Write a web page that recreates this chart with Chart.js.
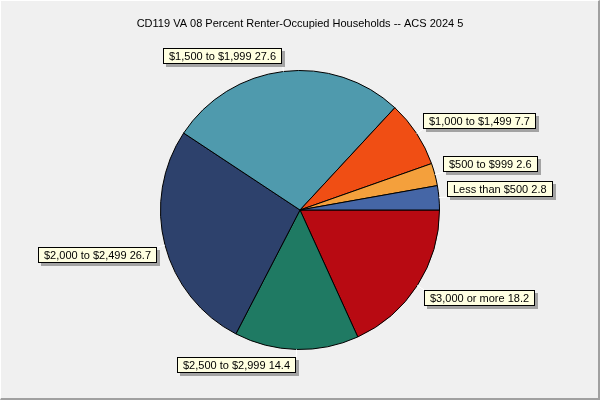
<!DOCTYPE html>
<html lang="en">
<head>
<meta charset="UTF-8">
<title>CD119 VA 08 Percent Renter-Occupied Households</title>
<script src="https://cdn.jsdelivr.net/npm/chart.js"></script>
<style>
  body { margin: 0; background: #f0f0f0; }
  #wrap { position: relative; width: 600px; height: 400px; }
  #frame {
    position: absolute; left: 0; top: 0; width: 600px; height: 400px;
    box-sizing: border-box; pointer-events: none;
    border-top: 1px solid #ffffff; border-left: 1px solid #ffffff;
    border-right: 2px solid #a0a0a0; border-bottom: 2px solid #a0a0a0;
  }
</style>
</head>
<body>
<div id="wrap">
  <canvas id="pie" width="600" height="400"></canvas>
  <div id="frame"></div>
</div>
<script>
// rent categories, in the order they run counter-clockwise from 3 o'clock
const categorias = ['Less than $500', '$500 to $999', '$1,000 to $1,499', '$1,500 to $1,999',
                    '$2,000 to $2,499', '$2,500 to $2,999', '$3,000 or more'];
const porcentajes = [2.8, 2.6, 7.7, 27.6, 26.7, 14.4, 18.2];
const colores = ['#4566a6', '#f4a03c', '#f04e14', '#4f9aad', '#2d416c', '#1f7a63', '#b80a12'];

// Chart.js draws clockwise, so feed everything reversed
const labels = categorias.slice().reverse();
const valores = porcentajes.slice().reverse();
const fondo = colores.slice().reverse();

const etiquetas = {
  id: 'etiquetas',
  afterDraw(chart) {
    const ctx = chart.ctx;
    const meta = chart.getDatasetMeta(0);
    ctx.save();
    ctx.font = '11px Arial, "Liberation Sans", sans-serif';
    ctx.textBaseline = 'middle';
    meta.data.forEach((arc, i) => {
      const p = arc.getProps(['x', 'y', 'startAngle', 'endAngle', 'outerRadius'], true);
      const mid = (p.startAngle + p.endAngle) / 2;
      const cos = Math.cos(mid), sin = Math.sin(mid);
      const ex = p.x + p.outerRadius * cos, ey = p.y + p.outerRadius * sin;
      const ax = p.x + (p.outerRadius + 8) * cos, ay = p.y + (p.outerRadius + 8) * sin;

      // linea guia
      ctx.strokeStyle = '#ffffff';
      ctx.lineWidth = 1;
      ctx.beginPath();
      ctx.moveTo(ex, ey);
      ctx.lineTo(ax, ay);
      ctx.stroke();

      const texto = chart.data.labels[i] + ' ' + valores[i];
      const w = Math.round(ctx.measureText(texto).width) + 12;
      const h = 16;
      const left = Math.round(cos >= 0 ? ax : ax - w);
      const top = Math.round(sin < 0 ? ay - h : ay);

      ctx.fillStyle = 'rgba(100,100,100,0.55)';
      ctx.fillRect(left + 3, top + 3, w, h);
      ctx.fillStyle = '#ffffe1';
      ctx.fillRect(left, top, w, h);
      ctx.strokeStyle = '#000000';
      ctx.strokeRect(left + 0.5, top + 0.5, w - 1, h - 1);
      ctx.fillStyle = '#000000';
      ctx.fillText(texto, left + 6, top + h / 2 + 0.5);
    });
    ctx.restore();
  }
};

new Chart(document.getElementById('pie').getContext('2d'), {
  type: 'pie',
  data: {
    labels: labels,
    datasets: [{
      data: valores,
      backgroundColor: fondo,
      borderColor: '#000000',
      borderWidth: 1
    }]
  },
  options: {
    responsive: false,
    animation: false,
    devicePixelRatio: 1,
    rotation: 90,
    layout: { padding: { top: 0, bottom: 50, left: 0, right: 0 } },
    plugins: {
      legend: { display: false },
      tooltip: { enabled: false },
      title: {
        display: true,
        text: 'CD119 VA 08 Percent Renter-Occupied Households -- ACS 2024 5',
        color: '#000000',
        font: { family: 'Arial, "Liberation Sans", sans-serif', size: 11, weight: 'normal' },
        padding: { top: 17, bottom: 39.8 }
      }
    }
  },
  plugins: [etiquetas]
});
</script>
</body>
</html>
